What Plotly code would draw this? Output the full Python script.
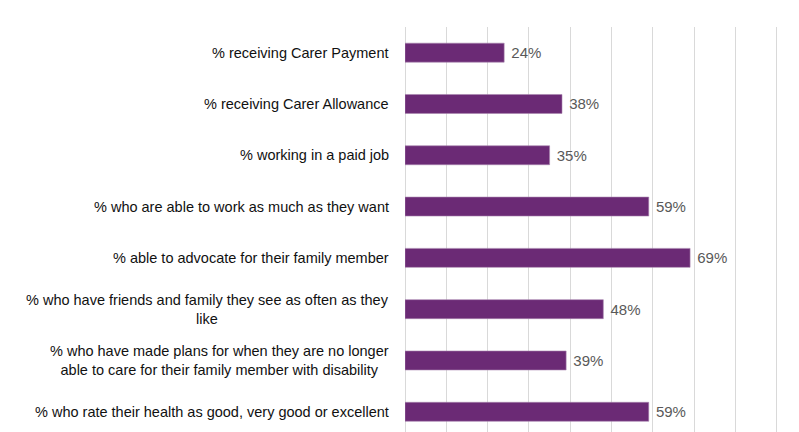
import plotly.graph_objects as go

# survey measures, top to bottom
labels = [
    "% receiving Carer Payment",
    "% receiving Carer Allowance",
    "% working in a paid job",
    "% who are able to work as much as they want",
    "% able to advocate for their family member",
    "% who have friends and family they see as often as they<br>like",
    "% who have made plans for when they are no longer<br>able to care for their family member with disability",
    "% who rate their health as good, very good or excellent",
]
values = [24, 38, 35, 59, 69, 48, 39, 59]
value_text = [f" {v}%" for v in values]

cats = [f"c{i}" for i in range(len(labels))]
PURPLE = "#6B2A75"
FONT = "Liberation Sans, Arial, sans-serif"

fig = go.Figure(go.Bar(
    x=values,
    y=cats,
    orientation="h",
    width=0.37,
    marker=dict(color=PURPLE, line=dict(color="#A884AE", width=0.6)),
    text=value_text,
    textposition="outside",
    textfont=dict(family=FONT, size=15, color="#595959"),
    cliponaxis=False,
    hoverinfo="skip",
))

# category labels as annotations so wrapped lines stay centred
for c, lab in zip(cats, labels):
    fig.add_annotation(
        x=0, xref="paper", xshift=-14, xanchor="right",
        y=c, yref="y", yanchor="middle",
        text=lab, showarrow=False, align="center",
        font=dict(family=FONT, size=14.5, color="#111111"),
    )

fig.update_xaxes(
    range=[0, 97.3], dtick=10, showticklabels=False,
    showgrid=True, gridcolor="#D9D9D9", gridwidth=1,
    zeroline=True, zerolinecolor="#D9D9D9", zerolinewidth=1,
    showline=False,
)
fig.update_yaxes(
    categoryorder="array", categoryarray=cats,
    range=[7.55, -0.5], showticklabels=False,
    showgrid=False, zeroline=False, showline=False,
)
# page body has an 8px margin, so the figure is offset by that amount
fig.update_layout(
    width=799, height=432,
    margin=dict(l=397, r=0, t=19, b=0),
    plot_bgcolor="white", paper_bgcolor="white",
    showlegend=False,
)

fig.write_html("out.html")
